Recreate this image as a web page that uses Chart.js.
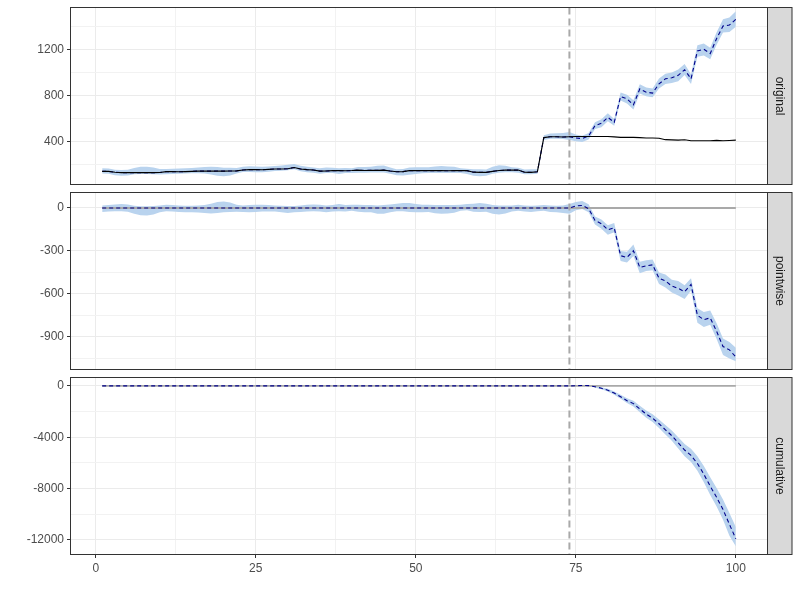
<!DOCTYPE html>
<html>
<head>
<meta charset="utf-8">
<script src="https://cdn.jsdelivr.net/npm/chart.js@4.4.1/dist/chart.umd.min.js"></script>
<style>
  html, body { margin: 0; padding: 0; background: #fff; }
  #wrap { position: relative; width: 800px; height: 600px; }
  #wrap canvas { position: absolute; left: 0; top: 0; }
</style>
</head>
<body>
<div id="wrap">
  <canvas id="c-original" width="800" height="600"></canvas>
  <canvas id="c-pointwise" width="800" height="600"></canvas>
  <canvas id="c-cumulative" width="800" height="600"></canvas>
</div>
<script>
// Дні спостереження та кінець періоду до втручання
const DAYS = Array.from({ length: 100 }, (_, i) => i + 1);
const PRE_END = 74;

// original: фактичний ряд, прогноз і його інтервал
const response = [
  143,143,135,132,132,132,132,132,132,133,
  141,141,140,141,143,145,145,145,146,145,
  146,147,155,158,158,157,160,164,164,166,
  176,163,158,155,145,146,149,149,148,150,
  154,150,153,152,154,146,140,141,149,149,
  149,150,149,149,148,149,150,149,136,134,
  134,143,150,154,154,154,135,134,140,436,
  443,443,441,444,446,446,446,446,446,446,
  442,438,438,438,436,433,433,430,418,416,
  414,417,409,409,409,409,412,409,411,414];
const predMean = [
  143,143,135,132,132,132,132,132,132,133,
  141,141,140,141,143,145,145,145,146,145,
  146,147,155,158,158,157,160,164,164,166,
  176,163,158,155,145,146,149,149,148,150,
  154,150,153,152,154,146,140,141,149,149,
  149,150,149,149,148,149,150,149,136,134,
  134,143,150,154,154,154,135,134,140,436,
  443,443,441,444,432,428,450,540,560,612,
  568,793,772,720,859,830,822,903,946,955,
  976,1025,946,1188,1203,1165,1296,1404,1413,1462];
const predLower = [
  125,123,110,105,107,117,120,120,118,115,
  119,121,122,125,127,127,125,115,104,100,
  108,125,137,138,136,135,140,146,148,152,
  162,145,136,130,123,128,129,121,128,128,
  132,130,133,134,134,122,110,107,114,121,
  127,128,129,129,128,129,128,121,106,100,
  104,123,132,136,136,132,117,118,122,416,
  425,427,423,416,404,398,420,510,525,577,
  538,758,732,680,819,795,787,863,901,910,
  926,980,901,1138,1148,1115,1241,1349,1353,1397];
const predUpper = [
  171,168,157,154,158,172,182,184,177,163,
  163,165,168,171,173,177,180,183,181,175,
  174,173,183,188,186,182,185,189,194,201,
  206,191,183,177,169,176,174,171,173,170,
  180,180,183,192,194,176,162,163,177,179,
  179,178,185,189,186,183,170,165,162,162,
  160,183,195,192,179,174,160,162,162,456,
  471,473,476,484,462,453,475,570,595,647,
  598,828,807,760,899,870,862,948,991,1000,
  1026,1075,986,1238,1253,1215,1351,1464,1478,1532];

// pointwise: поточковий ефект
const pointEffect = [
  0,0,0,0,0,0,0,0,0,0, 0,0,0,0,0,0,0,0,0,0,
  0,0,0,0,0,0,0,0,0,0, 0,0,0,0,0,0,0,0,0,0,
  0,0,0,0,0,0,0,0,0,0, 0,0,0,0,0,0,0,0,0,0,
  0,0,0,0,0,0,0,0,0,0, 0,0,0,0,14,18,-5,-87,-110,-152,
  -138,-333,-345,-298,-415,-404,-397,-490,-509,-545,
  -561,-584,-533,-749,-779,-767,-861,-967,-990,-1040];
const pointUpper = [
  18,20,25,27,25,15,12,12,14,18,
  22,20,18,16,16,18,20,30,42,45,
  38,22,18,20,22,22,20,18,16,14,
  14,18,22,25,22,18,20,28,20,22,
  22,20,20,18,20,24,30,34,35,28,
  22,22,20,20,20,20,22,28,30,34,
  30,20,18,18,18,22,18,16,18,20,
  18,16,18,28,42,48,26,-60,-80,-120,
  -105,-300,-305,-255,-375,-365,-360,-450,-465,-500,
  -510,-540,-490,-700,-725,-715,-805,-910,-935,-975];
const pointLower = [
  -28,-25,-22,-22,-26,-40,-50,-52,-45,-30,
  -22,-24,-28,-30,-30,-32,-35,-38,-35,-30,
  -28,-26,-28,-30,-28,-25,-25,-25,-30,-35,
  -30,-28,-25,-22,-24,-30,-25,-22,-25,-20,
  -26,-30,-30,-40,-40,-30,-22,-22,-28,-30,
  -30,-28,-36,-40,-38,-34,-20,-16,-26,-28,
  -26,-40,-45,-38,-25,-20,-25,-28,-22,-20,
  -28,-30,-35,-40,-16,-7,-29,-115,-145,-187,
  -170,-370,-380,-335,-455,-440,-435,-530,-555,-590,
  -610,-635,-575,-800,-830,-815,-915,-1025,-1050,-1070];

// cumulative: накопичений ефект
const cumEffect = [
  0,0,0,0,0,0,0,0,0,0, 0,0,0,0,0,0,0,0,0,0,
  0,0,0,0,0,0,0,0,0,0, 0,0,0,0,0,0,0,0,0,0,
  0,0,0,0,0,0,0,0,0,0, 0,0,0,0,0,0,0,0,0,0,
  0,0,0,0,0,0,0,0,0,0, 0,0,0,0,14,30,25,-65,-180,-330,
  -560,-850,-1150,-1380,-1800,-2200,-2510,-2950,-3420,-3880,
  -4440,-5000,-5420,-6050,-6880,-7820,-8680,-9640,-10790,-11920];
const cumUpper = [
  0,0,0,0,0,0,0,0,0,0, 0,0,0,0,0,0,0,0,0,0,
  0,0,0,0,0,0,0,0,0,0, 0,0,0,0,0,0,0,0,0,0,
  0,0,0,0,0,0,0,0,0,0, 0,0,0,0,0,0,0,0,0,0,
  0,0,0,0,0,0,0,0,0,0, 0,0,0,0,29,29,29,-15,-100,-230,
  -430,-690,-960,-1160,-1550,-1920,-2200,-2610,-3050,-3480,
  -4000,-4520,-4900,-5480,-6250,-7130,-7950,-8850,-9900,-11000];
const cumLower = [
  0,0,0,0,0,0,0,0,0,0, 0,0,0,0,0,0,0,0,0,0,
  0,0,0,0,0,0,0,0,0,0, 0,0,0,0,0,0,0,0,0,0,
  0,0,0,0,0,0,0,0,0,0, 0,0,0,0,0,0,0,0,0,0,
  0,0,0,0,0,0,0,0,0,0, 0,0,0,0,0,10,0,-115,-260,-430,
  -690,-1010,-1340,-1600,-2050,-2480,-2820,-3290,-3790,-4280,
  -4880,-5480,-5940,-6620,-7510,-8510,-9410,-10430,-11680,-12500];

// Поділки осей (основні + проміжні лінії сітки)
const X_TICKS = [0, 12.5, 25, 37.5, 50, 62.5, 75, 87.5, 100];
const X_MAJOR = [0, 25, 50, 75, 100];
const Y_TICKS_ORIG  = [200, 400, 600, 800, 1000, 1200, 1400];
const Y_MAJOR_ORIG  = [400, 800, 1200];
const Y_TICKS_POINT = [0, -150, -300, -450, -600, -750, -900, -1050];
const Y_MAJOR_POINT = [0, -300, -600, -900];
const Y_TICKS_CUM   = [0, -2000, -4000, -6000, -8000, -10000, -12000];
const Y_MAJOR_CUM   = [0, -4000, -8000, -12000];

const BAND = "#B9D3EE";
const PRED = "#00008B";
const GREY = "#A9A9A9";
const FONT = "'Liberation Sans', Arial, sans-serif";

Chart.defaults.font.family = FONT;

const xy = arr => arr.map((v, i) => ({ x: DAYS[i], y: v }));

const panelDecor = {
  id: "panelDecor",
  afterDatasetsDraw(chart, args, opts) {
    const { ctx, chartArea: a, scales } = chart;
    const vx = scales.x.getPixelForValue(PRE_END);
    ctx.save();
    ctx.strokeStyle = GREY; ctx.lineWidth = 2; ctx.setLineDash([7, 4]);
    ctx.beginPath(); ctx.moveTo(vx, a.top); ctx.lineTo(vx, a.bottom); ctx.stroke();
    ctx.setLineDash([]);
    ctx.strokeStyle = "#333333"; ctx.lineWidth = 1;
    ctx.strokeRect(a.left, a.top, a.right - a.left, a.bottom - a.top);
    const sw = 24.5;
    ctx.fillStyle = "#D9D9D9";
    ctx.fillRect(a.right, a.top, sw, a.bottom - a.top);
    ctx.strokeRect(a.right, a.top, sw, a.bottom - a.top);
    ctx.translate(a.right + sw / 2, (a.top + a.bottom) / 2);
    ctx.rotate(Math.PI / 2);
    ctx.fillStyle = "#1A1A1A";
    ctx.font = `12px ${FONT}`;
    ctx.textAlign = "center"; ctx.textBaseline = "middle";
    ctx.fillText(opts.label, 0, 0);
    ctx.restore();
  },
};

function gridColor(major) {
  return c => major.includes(c.tick.value) ? "#EBEBEB" : "#F2F2F2";
}
function tickColor(major) {
  return c => major.includes(c.tick.value) ? "#333333" : "rgba(0,0,0,0)";
}
// не даємо підписам осей зсувати область графіка
function noScalePadding(s) {
  s.paddingTop = 0; s.paddingBottom = 0; s.paddingLeft = 0; s.paddingRight = 0;
}

function makePanel(id, p) {
  const lineBase = { pointRadius: 0, pointHitRadius: 0, tension: 0, fill: false };
  const datasets = [
    { ...lineBase, data: xy(p.lower), borderColor: "rgba(0,0,0,0)", borderWidth: 0, order: 5 },
    { ...lineBase, data: xy(p.upper), borderColor: "rgba(0,0,0,0)", borderWidth: 0,
      fill: "-1", backgroundColor: BAND, order: 4 },
  ];
  if (p.zeroLine) {
    datasets.push({ ...lineBase, data: [{ x: DAYS[0], y: 0 }, { x: DAYS[DAYS.length - 1], y: 0 }],
      borderColor: GREY, borderWidth: 1.8, order: 3 });
  }
  datasets.push({ ...lineBase, data: xy(p.mean), borderColor: PRED, borderWidth: 1.1,
    borderDash: [4, 3], order: 2 });
  if (p.actual) {
    datasets.push({ ...lineBase, data: xy(p.actual), borderColor: "#000000", borderWidth: 1.1, order: 1 });
  }

  return new Chart(document.getElementById(id), {
    type: "line",
    data: { datasets },
    options: {
      responsive: false,
      animation: false,
      devicePixelRatio: 1,
      layout: { autoPadding: false,
                padding: { left: 0, right: 32.5, top: p.top, bottom: p.bottom } },
      plugins: { legend: { display: false }, tooltip: { enabled: false },
                 panelDecor: { label: p.label } },
      scales: {
        x: {
          type: "linear", min: -3.95, max: 104.95,
          afterBuildTicks: s => { s.ticks = X_TICKS.map(v => ({ value: v })); },
          afterFit: s => { s.height = p.showX ? 20 : 0; noScalePadding(s); },
          border: { display: false },
          grid: { color: gridColor(X_MAJOR), lineWidth: 1, drawTicks: p.showX,
                  tickLength: 3.5, tickColor: tickColor(X_MAJOR) },
          ticks: { display: p.showX, autoSkip: false, maxRotation: 0, padding: 3,
                   color: "#4D4D4D", font: { size: 12 },
                   callback: v => X_MAJOR.includes(v) ? String(v) : "" },
        },
        y: {
          type: "linear", min: p.yMin, max: p.yMax,
          afterBuildTicks: s => { s.ticks = p.yTicks.map(v => ({ value: v })); },
          afterFit: s => { s.width = 70.5; noScalePadding(s); },
          border: { display: false },
          grid: { color: gridColor(p.yMajor), lineWidth: 1, tickLength: 3.5,
                  tickColor: tickColor(p.yMajor) },
          ticks: { autoSkip: false, padding: 3, color: "#4D4D4D", font: { size: 12 },
                   callback: v => p.yMajor.includes(v) ? String(v) : "" },
        },
      },
    },
    plugins: [panelDecor],
  });
}

makePanel("c-original", {
  label: "original", top: 7.5, bottom: 415.5, showX: false,
  yMin: 29, yMax: 1565, yTicks: Y_TICKS_ORIG, yMajor: Y_MAJOR_ORIG,
  lower: predLower, upper: predUpper, mean: predMean, actual: response,
});
makePanel("c-pointwise", {
  label: "pointwise", top: 192.5, bottom: 230.5, showX: false,
  yMin: -1127, yMax: 108, yTicks: Y_TICKS_POINT, yMajor: Y_MAJOR_POINT,
  lower: pointLower, upper: pointUpper, mean: pointEffect, zeroLine: true,
});
makePanel("c-cumulative", {
  label: "cumulative", top: 377.5, bottom: 25.5, showX: true,
  yMin: -13144, yMax: 656, yTicks: Y_TICKS_CUM, yMajor: Y_MAJOR_CUM,
  lower: cumLower, upper: cumUpper, mean: cumEffect, zeroLine: true,
});
</script>
</body>
</html>
